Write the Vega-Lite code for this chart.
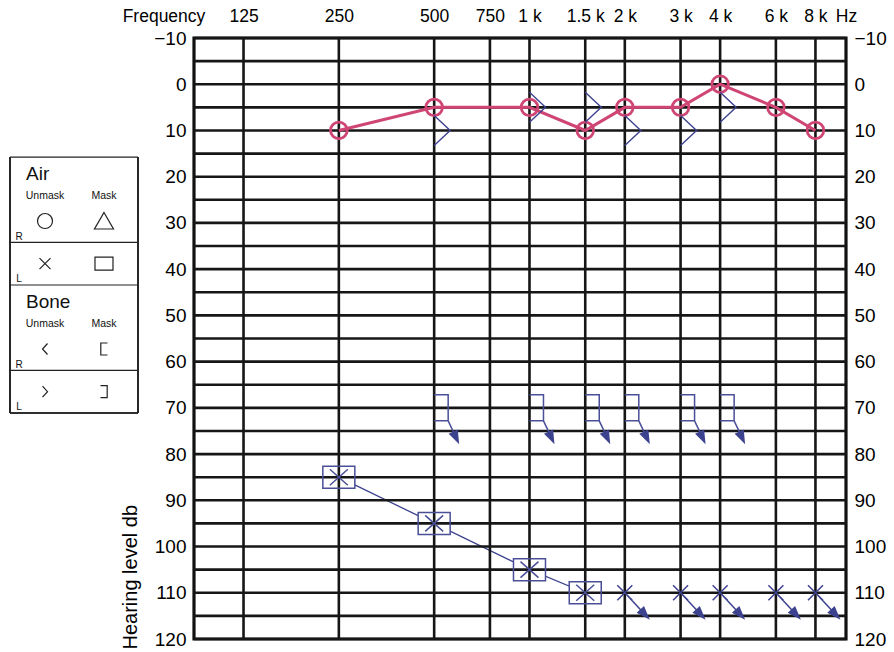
{
  "$schema": "https://vega.github.io/schema/vega-lite/v6.json",
  "padding": {"left": 9, "top": 5, "right": 0, "bottom": 0},
  "config": {
    "view": {"stroke": null},
    "font": "Liberation Sans",
    "axis": {"labelColor": "#000", "titleColor": "#000", "labelFont": "Liberation Sans", "titleFont": "Liberation Sans"},
    "text": {"font": "Liberation Sans"}
  },
  "datasets": {
    "points": [
      {"type": "AirR", "freq": 250, "db": 10},
      {"type": "AirR", "freq": 500, "db": 5},
      {"type": "AirR", "freq": 1000, "db": 5},
      {"type": "AirR", "freq": 1500, "db": 10},
      {"type": "AirR", "freq": 2000, "db": 5},
      {"type": "AirR", "freq": 3000, "db": 5},
      {"type": "AirR", "freq": 4000, "db": 0},
      {"type": "AirR", "freq": 6000, "db": 5},
      {"type": "AirR", "freq": 8000, "db": 10},
      {"type": "BoneL", "freq": 500, "db": 10},
      {"type": "BoneL", "freq": 1000, "db": 5},
      {"type": "BoneL", "freq": 1500, "db": 5},
      {"type": "BoneL", "freq": 2000, "db": 10},
      {"type": "BoneL", "freq": 3000, "db": 10},
      {"type": "BoneL", "freq": 4000, "db": 5},
      {"type": "AirLMasked", "freq": 250, "db": 85},
      {"type": "AirLMasked", "freq": 500, "db": 95},
      {"type": "AirLMasked", "freq": 1000, "db": 105},
      {"type": "AirLMasked", "freq": 1500, "db": 110},
      {"type": "AirLNoResponse", "freq": 2000, "db": 110},
      {"type": "AirLNoResponse", "freq": 3000, "db": 110},
      {"type": "AirLNoResponse", "freq": 4000, "db": 110},
      {"type": "AirLNoResponse", "freq": 6000, "db": 110},
      {"type": "AirLNoResponse", "freq": 8000, "db": 110},
      {"type": "BoneLMaskedNoResponse", "freq": 500, "db": 70},
      {"type": "BoneLMaskedNoResponse", "freq": 1000, "db": 70},
      {"type": "BoneLMaskedNoResponse", "freq": 1500, "db": 70},
      {"type": "BoneLMaskedNoResponse", "freq": 2000, "db": 70},
      {"type": "BoneLMaskedNoResponse", "freq": 3000, "db": 70},
      {"type": "BoneLMaskedNoResponse", "freq": 4000, "db": 70}
    ],
    "vgrid": [
      {"freq": 125}, {"freq": 250}, {"freq": 500}, {"freq": 750}, {"freq": 1000}, {"freq": 1500},
      {"freq": 2000}, {"freq": 3000}, {"freq": 4000}, {"freq": 6000}, {"freq": 8000}
    ],
    "hgrid": [
      {"db": -10}, {"db": -5}, {"db": 0}, {"db": 5}, {"db": 10}, {"db": 15}, {"db": 20}, {"db": 25}, {"db": 30},
      {"db": 35}, {"db": 40}, {"db": 45}, {"db": 50}, {"db": 55}, {"db": 60}, {"db": 65}, {"db": 70}, {"db": 75},
      {"db": 80}, {"db": 85}, {"db": 90}, {"db": 95}, {"db": 100}, {"db": 105}, {"db": 110}, {"db": 115}, {"db": 120}
    ],
    "legendSymbols": [
      {"row": "Air R", "col": "Unmask", "sym": "air-R-unmask"},
      {"row": "Air R", "col": "Mask", "sym": "air-R-mask"},
      {"row": "Air L", "col": "Unmask", "sym": "air-L-unmask"},
      {"row": "Air L", "col": "Mask", "sym": "air-L-mask"},
      {"row": "Bone R", "col": "Unmask", "sym": "bone-R-unmask"},
      {"row": "Bone R", "col": "Mask", "sym": "bone-R-mask"},
      {"row": "Bone L", "col": "Unmask", "sym": "bone-L-unmask"},
      {"row": "Bone L", "col": "Mask", "sym": "bone-L-mask"}
    ],
    "legendHeaders": [
      {"row": "Air", "text": "Air"},
      {"row": "Bone", "text": "Bone"}
    ],
    "legendCols": [
      {"row": "Air", "col": "Unmask"}, {"row": "Air", "col": "Mask"},
      {"row": "Bone", "col": "Unmask"}, {"row": "Bone", "col": "Mask"}
    ],
    "legendEars": [
      {"row": "Air R", "text": "R"}, {"row": "Air L", "text": "L"},
      {"row": "Bone R", "text": "R"}, {"row": "Bone L", "text": "L"}
    ],
    "legendLines": [
      {"row": "Air"}, {"row": "Air L"}, {"row": "Bone"}, {"row": "Bone L"}
    ]
  },
  "spacing": 56,
  "bounds": "flush",
  "hconcat": [
    {
      "width": 128,
      "height": 375,
      "layer": [
        {
          "data": {"name": "legendLines"},
          "mark": {"type": "rule", "color": "#222", "strokeWidth": 1.2},
          "encoding": {
            "y": {"field": "row", "type": "nominal", "bandPosition": 0, "axis": null,
                  "scale": {"type": "band", "domain": ["top", "Air", "Air R", "Air L", "Bone", "Bone R", "Bone L"], "paddingInner": 0, "paddingOuter": 0.895, "align": 1, "round": false}},
            "x": {"value": 0},
            "x2": {"value": "width"}
          }
        },
        {
          "data": {"name": "legendLines"},
          "mark": {"type": "rule", "color": "#222", "strokeWidth": 1.2},
          "encoding": {
            "y": {"datum": "Bone L", "type": "nominal", "bandPosition": 1, "axis": null,
                  "scale": {"type": "band", "domain": ["top", "Air", "Air R", "Air L", "Bone", "Bone R", "Bone L"], "paddingInner": 0, "paddingOuter": 0.895, "align": 1, "round": false}},
            "x": {"value": 0},
            "x2": {"value": "width"}
          }
        },
        {
          "data": {"name": "legendLines"},
          "mark": {"type": "rule", "color": "#222", "strokeWidth": 1.2},
          "encoding": {
            "y": {"datum": "Air", "type": "nominal", "bandPosition": 0, "axis": null,
                  "scale": {"type": "band", "domain": ["top", "Air", "Air R", "Air L", "Bone", "Bone R", "Bone L"], "paddingInner": 0, "paddingOuter": 0.895, "align": 1, "round": false}},
            "y2": {"datum": "Bone L", "bandPosition": 1},
            "x": {"value": 0}
          }
        },
        {
          "data": {"name": "legendLines"},
          "mark": {"type": "rule", "color": "#222", "strokeWidth": 1.2},
          "encoding": {
            "y": {"datum": "Air", "type": "nominal", "bandPosition": 0, "axis": null,
                  "scale": {"type": "band", "domain": ["top", "Air", "Air R", "Air L", "Bone", "Bone R", "Bone L"], "paddingInner": 0, "paddingOuter": 0.895, "align": 1, "round": false}},
            "y2": {"datum": "Bone L", "bandPosition": 1},
            "x": {"value": "width"}
          }
        },
        {
          "data": {"name": "legendSymbols"},
          "mark": {"type": "point", "size": 4, "filled": false, "stroke": "#222", "strokeWidth": 1.2, "opacity": 1},
          "encoding": {
            "x": {"field": "col", "type": "nominal", "axis": null,
                  "scale": {"type": "band", "domain": ["Unmask", "Mask"], "paddingInner": 0, "paddingOuter": 0.085, "align": 0.55, "round": false}},
            "y": {"field": "row", "type": "nominal", "axis": null,
                  "scale": {"type": "band", "domain": ["top", "Air", "Air R", "Air L", "Bone", "Bone R", "Bone L"], "paddingInner": 0, "paddingOuter": 0.895, "align": 1, "round": false}},
            "shape": {"field": "sym", "type": "nominal", "legend": null,
              "scale": {
                "domain": ["air-R-unmask", "air-R-mask", "air-L-unmask", "air-L-mask", "bone-R-unmask", "bone-R-mask", "bone-L-unmask", "bone-L-mask"],
                "range": [
                  "M7.5,0A7.5,7.5 0 1,1 -7.5,0A7.5,7.5 0 1,1 7.5,0Z",
                  "M0,-8.5L9.5,8L-9.5,8Z",
                  "M-5.5,-5.5L5.5,5.5M-5.5,5.5L5.5,-5.5",
                  "M-9,-6.5H9V6.5H-9Z",
                  "M2.5,-5.5L-2.5,0L2.5,5.5",
                  "M3.5,-6H-3.2V6H3.5",
                  "M-2.5,-5.5L2.5,0L-2.5,5.5",
                  "M-3.5,-6H3.2V6H-3.5"
                ]
              }
            }
          }
        },
        {
          "data": {"name": "legendHeaders"},
          "mark": {"type": "text", "align": "left", "baseline": "middle", "fontSize": 19, "dx": 10.5, "color": "#111"},
          "encoding": {
            "x": {"datum": "Unmask", "type": "nominal", "bandPosition": 0, "axis": null,
                  "scale": {"type": "band", "domain": ["Unmask", "Mask"], "paddingInner": 0, "paddingOuter": 0.085, "align": 0.55, "round": false}},
            "y": {"field": "row", "type": "nominal", "bandPosition": 0.4, "axis": null,
                  "scale": {"type": "band", "domain": ["top", "Air", "Air R", "Air L", "Bone", "Bone R", "Bone L"], "paddingInner": 0, "paddingOuter": 0.895, "align": 1, "round": false}},
            "text": {"field": "text"}
          }
        },
        {
          "data": {"name": "legendCols"},
          "mark": {"type": "text", "align": "center", "baseline": "middle", "fontSize": 10.5, "color": "#111"},
          "encoding": {
            "x": {"field": "col", "type": "nominal", "axis": null,
                  "scale": {"type": "band", "domain": ["Unmask", "Mask"], "paddingInner": 0, "paddingOuter": 0.085, "align": 0.55, "round": false}},
            "y": {"field": "row", "type": "nominal", "bandPosition": 0.91, "axis": null,
                  "scale": {"type": "band", "domain": ["top", "Air", "Air R", "Air L", "Bone", "Bone R", "Bone L"], "paddingInner": 0, "paddingOuter": 0.895, "align": 1, "round": false}},
            "text": {"field": "col"}
          }
        },
        {
          "data": {"name": "legendEars"},
          "mark": {"type": "text", "align": "center", "baseline": "middle", "fontSize": 10, "dx": 3.5, "color": "#111"},
          "encoding": {
            "x": {"datum": "Unmask", "type": "nominal", "bandPosition": 0, "axis": null,
                  "scale": {"type": "band", "domain": ["Unmask", "Mask"], "paddingInner": 0, "paddingOuter": 0.085, "align": 0.55, "round": false}},
            "y": {"field": "row", "type": "nominal", "bandPosition": 0.87, "axis": null,
                  "scale": {"type": "band", "domain": ["top", "Air", "Air R", "Air L", "Bone", "Bone R", "Bone L"], "paddingInner": 0, "paddingOuter": 0.895, "align": 1, "round": false}},
            "text": {"field": "text"}
          }
        }
      ]
    },
    {
      "width": 652,
      "height": 601,
      "view": {"stroke": "#111", "strokeWidth": 3.2},
      "resolve": {"scale": {"y": "independent"}},
      "layer": [
        {
          "layer": [
            {
              "data": {"name": "points"},
              "transform": [{"filter": "datum.type === 'AirLMasked'"}],
              "mark": {"type": "line", "color": "#3d428f", "strokeWidth": 1.3},
              "encoding": {
                "x": {"field": "freq", "type": "quantitative",
                      "scale": {"type": "log", "domain": [87.2, 9990], "nice": false},
                      "axis": {
                        "orient": "top",
                        "values": [125, 250, 500, 750, 1000, 1500, 2000, 3000, 4000, 6000, 8000, 9990],
                        "labelExpr": "datum.value >= 9000 ? 'Hz' : (datum.value >= 1000 ? (datum.value / 1000) + ' k' : '' + datum.value)",
                        "labelOverlap": false, "labelFlush": false, "labelBound": false,
                        "grid": false, "ticks": false, "tickSize": 0, "domain": false,
                        "labelPadding": 16.5, "labelBaseline": "alphabetic", "labelFontSize": 17.5,
                        "title": "Frequency", "titleFontSize": 17.5, "titleFontWeight": "normal",
                        "titleX": -30.5, "titleY": -16.5, "titleBaseline": "alphabetic", "titleAlign": "center", "titleAngle": 0
                      }},
                "y": {"field": "db", "type": "quantitative",
                      "scale": {"domain": [-10, 120], "reverse": true, "nice": false, "zero": false},
                      "axis": {
                        "orient": "left",
                        "values": [-10, 0, 10, 20, 30, 40, 50, 60, 70, 80, 90, 100, 110, 120],
                        "labelExpr": "datum.value < 0 ? '\u2212' + abs(datum.value) : '' + datum.value",
                        "labelOverlap": false, "labelFlush": false, "labelBound": false,
                        "grid": false, "ticks": false, "tickSize": 0, "domain": false,
                        "labelPadding": 8, "labelFontSize": 19,
                        "title": "Hearing level db", "titleFontSize": 20, "titleFontWeight": "normal",
                        "titleX": -64, "titleY": 611, "titleAngle": -90, "titleAlign": "left", "titleBaseline": "middle"
                      }},
                "order": {"field": "freq", "type": "quantitative"}
              }
            },
            {
              "data": {"name": "points"},
              "transform": [{"filter": "datum.type === 'AirLMasked'"}],
              "mark": {"type": "point", "shape": "M-16,-11H16V11H-16Z", "size": 4, "filled": true, "fill": "white", "strokeWidth": 0, "opacity": 1},
              "encoding": {
                "x": {"field": "freq", "type": "quantitative", "scale": {"type": "log", "domain": [87.2, 9990], "nice": false}},
                "y": {"field": "db", "type": "quantitative", "scale": {"domain": [-10, 120], "reverse": true, "nice": false, "zero": false}}
              }
            },
            {
              "data": {"name": "vgrid"},
              "mark": {"type": "rule", "color": "#161616", "strokeWidth": 2.6},
              "encoding": {
                "x": {"field": "freq", "type": "quantitative", "scale": {"type": "log", "domain": [87.2, 9990], "nice": false}}
              }
            },
            {
              "data": {"name": "hgrid"},
              "mark": {"type": "rule", "color": "#161616", "strokeWidth": 2.6},
              "encoding": {
                "y": {"field": "db", "type": "quantitative", "scale": {"domain": [-10, 120], "reverse": true, "nice": false, "zero": false}}
              }
            },
            {
              "data": {"name": "points"},
              "transform": [{"filter": "datum.type === 'AirR'"}],
              "mark": {"type": "line", "color": "#cf4573", "strokeWidth": 3},
              "encoding": {
                "x": {"field": "freq", "type": "quantitative", "scale": {"type": "log", "domain": [87.2, 9990], "nice": false}},
                "y": {"field": "db", "type": "quantitative", "scale": {"domain": [-10, 120], "reverse": true, "nice": false, "zero": false}},
                "order": {"field": "freq", "type": "quantitative"}
              }
            },
            {
              "data": {"name": "points"},
              "transform": [{"filter": "datum.type === 'AirR'"}],
              "mark": {"type": "point", "shape": "circle", "size": 275, "filled": false, "stroke": "#cf4573", "strokeWidth": 2.8, "opacity": 1},
              "encoding": {
                "x": {"field": "freq", "type": "quantitative", "scale": {"type": "log", "domain": [87.2, 9990], "nice": false}},
                "y": {"field": "db", "type": "quantitative", "scale": {"domain": [-10, 120], "reverse": true, "nice": false, "zero": false}}
              }
            },
            {
              "data": {"name": "points"},
              "transform": [{"filter": "datum.type === 'BoneL'"}],
              "mark": {"type": "point", "shape": "M0,-15L16,0L0,15", "size": 4, "filled": false, "stroke": "#3d428f", "strokeWidth": 1.4, "opacity": 1},
              "encoding": {
                "x": {"field": "freq", "type": "quantitative", "scale": {"type": "log", "domain": [87.2, 9990], "nice": false}},
                "y": {"field": "db", "type": "quantitative", "scale": {"domain": [-10, 120], "reverse": true, "nice": false, "zero": false}}
              }
            },
            {
              "data": {"name": "points"},
              "transform": [{"filter": "datum.type === 'AirLMasked'"}],
              "mark": {"type": "point", "shape": "M-16,-11H16V11H-16ZM-9,-8L9,8M-9,8L9,-8", "size": 4, "filled": false, "stroke": "#4a4f98", "strokeWidth": 1.5, "opacity": 1},
              "encoding": {
                "x": {"field": "freq", "type": "quantitative", "scale": {"type": "log", "domain": [87.2, 9990], "nice": false}},
                "y": {"field": "db", "type": "quantitative", "scale": {"domain": [-10, 120], "reverse": true, "nice": false, "zero": false}}
              }
            },
            {
              "data": {"name": "points"},
              "transform": [{"filter": "datum.type === 'AirLNoResponse'"}],
              "mark": {"type": "point", "shape": "M-7.5,-7.5L7.5,7.5M-7.5,7.5L7.5,-7.5M0,0L16,17.3", "size": 4, "filled": false, "stroke": "#3d428f", "strokeWidth": 1.5, "opacity": 1},
              "encoding": {
                "x": {"field": "freq", "type": "quantitative", "scale": {"type": "log", "domain": [87.2, 9990], "nice": false}},
                "y": {"field": "db", "type": "quantitative", "scale": {"domain": [-10, 120], "reverse": true, "nice": false, "zero": false}}
              }
            },
            {
              "data": {"name": "points"},
              "transform": [{"filter": "datum.type === 'AirLNoResponse'"}],
              "mark": {"type": "point", "shape": "M25,27L11.8,20.1L19.2,13.3Z", "size": 4, "filled": true, "fill": "#3d428f", "strokeWidth": 0, "opacity": 1},
              "encoding": {
                "x": {"field": "freq", "type": "quantitative", "scale": {"type": "log", "domain": [87.2, 9990], "nice": false}},
                "y": {"field": "db", "type": "quantitative", "scale": {"domain": [-10, 120], "reverse": true, "nice": false, "zero": false}}
              }
            },
            {
              "data": {"name": "points"},
              "transform": [{"filter": "datum.type === 'BoneLMaskedNoResponse'"}],
              "mark": {"type": "point", "shape": "M0,-13H14V13H0M14,13L19.5,24.5", "size": 4, "filled": false, "stroke": "#4a4f98", "strokeWidth": 1.5, "opacity": 1},
              "encoding": {
                "x": {"field": "freq", "type": "quantitative", "scale": {"type": "log", "domain": [87.2, 9990], "nice": false}},
                "y": {"field": "db", "type": "quantitative", "scale": {"domain": [-10, 120], "reverse": true, "nice": false, "zero": false}}
              }
            },
            {
              "data": {"name": "points"},
              "transform": [{"filter": "datum.type === 'BoneLMaskedNoResponse'"}],
              "mark": {"type": "point", "shape": "M25,36.5L14.5,25.9L23.6,21.7Z", "size": 4, "filled": true, "fill": "#3d428f", "strokeWidth": 0, "opacity": 1},
              "encoding": {
                "x": {"field": "freq", "type": "quantitative", "scale": {"type": "log", "domain": [87.2, 9990], "nice": false}},
                "y": {"field": "db", "type": "quantitative", "scale": {"domain": [-10, 120], "reverse": true, "nice": false, "zero": false}}
              }
            }
          ]
        },
        {
          "data": {"name": "hgrid"},
          "mark": {"type": "point", "opacity": 0},
          "encoding": {
            "y": {"field": "db", "type": "quantitative",
                  "scale": {"domain": [-10, 120], "reverse": true, "nice": false, "zero": false},
                  "axis": {
                    "orient": "right",
                    "values": [-10, 0, 10, 20, 30, 40, 50, 60, 70, 80, 90, 100, 110, 120],
                    "labelExpr": "datum.value < 0 ? '\u2212' + abs(datum.value) : '' + datum.value",
                    "labelOverlap": false, "labelFlush": false, "labelBound": false,
                    "grid": false, "ticks": false, "tickSize": 0, "domain": false,
                    "labelPadding": 8, "labelFontSize": 19, "title": null
                  }}
          }
        }
      ]
    }
  ]
}
